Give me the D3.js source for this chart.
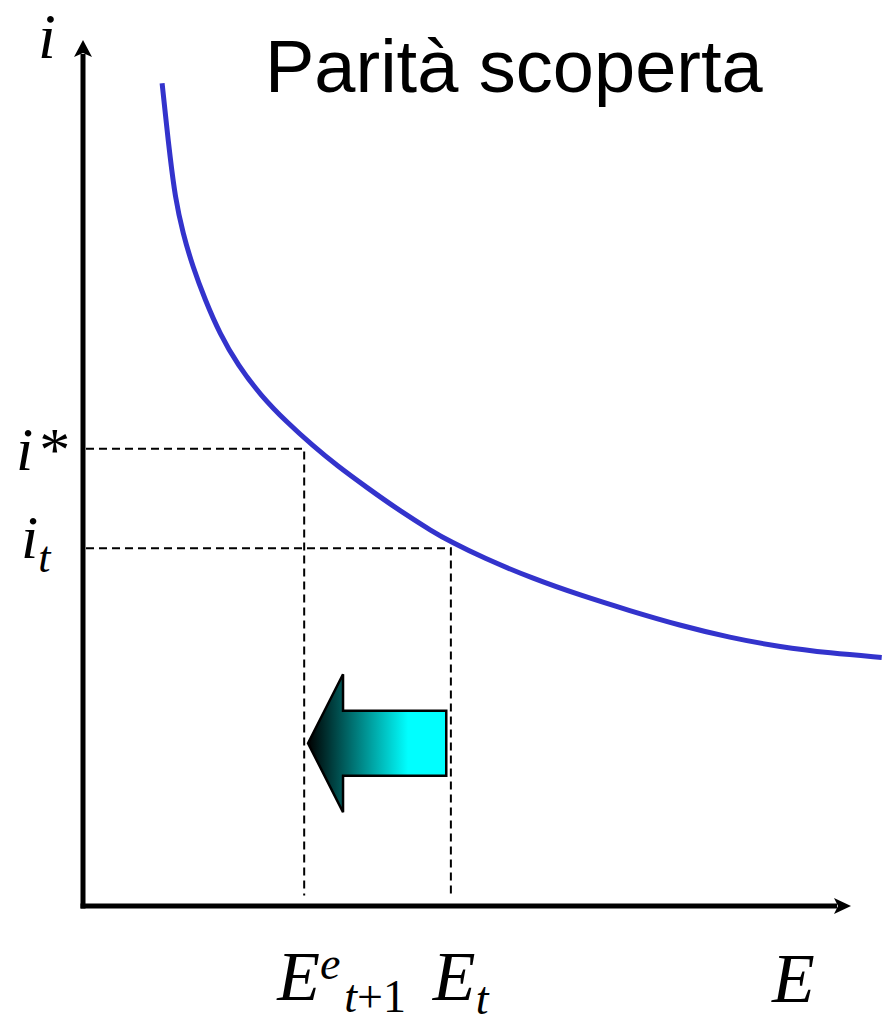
<!DOCTYPE html>
<html>
<head>
<meta charset="utf-8">
<script src="https://cdn.jsdelivr.net/npm/d3@7/dist/d3.min.js"></script>
<style>
  html, body { margin: 0; padding: 0; background: #fff; }
  svg { display: block; }
</style>
</head>
<body>
<svg id="chart" width="884" height="1020"></svg>
<script>
// Uncovered interest parity curve: exchange rate E vs domestic interest rate i
const curveE = [10.3, 10.9, 11.3, 12.0, 13.0, 14.3, 15.9, 17.8, 20.2, 23.1, 26.6, 30.0, 33.0, 37.0, 41.3, 45.6, 47.8, 52.1, 58.6, 64.7, 71.2, 77.7, 84.2, 90.8, 97.3, 104.0];
const curveI = [95.0, 90.0, 86.8, 81.8, 77.7, 73.8, 70.0, 66.1, 62.4, 59.0, 55.8, 53.1, 50.9, 48.3, 45.6, 43.2, 42.1, 40.2, 37.8, 35.9, 34.1, 32.4, 31.0, 29.9, 29.2, 28.7];

// Reference levels marked with dashed guides
const guideNames = ["star", "t"];
const guideI = [52.8, 41.3];
const guideE = [28.8, 47.9];

// Shift of the exchange rate: from E_t to expected E
const shiftFromE = 47.3;
const shiftToE = 29.3;
const shiftAtI = 18.8;

const title = "Parità scoperta";

const svg = d3.select("#chart");

const x = d3.scaleLinear().domain([0, 100]).range([83, 851]);
const y = d3.scaleLinear().domain([0, 100]).range([906, 40]);

const serif = "'Liberation Serif', 'Times New Roman', serif";

// Gradient for the shift arrow
const defs = svg.append("defs");
const grad = defs.append("linearGradient")
  .attr("id", "shiftGrad")
  .attr("gradientUnits", "userSpaceOnUse")
  .attr("x1", x(shiftToE)).attr("x2", x(shiftToE) + 100)
  .attr("y1", 0).attr("y2", 0);
grad.append("stop").attr("offset", "0%").attr("stop-color", "#000000");
grad.append("stop").attr("offset", "100%").attr("stop-color", "#00ffff");

// Dashed guides
const guides = guideNames.map((n, k) => ({ name: n, i: guideI[k], e: guideE[k] }));
const g = svg.append("g").attr("stroke", "#000").attr("stroke-width", 2)
  .attr("stroke-dasharray", "8,5").attr("fill", "none");
g.selectAll("path.guide").data(guides).join("path")
  .attr("class", "guide")
  .attr("d", d => `M${x(0) + 3},${y(d.i)}H${x(d.e)}V${y(1.2)}`);

// Curve
const line = d3.line()
  .x(d => x(d[0]))
  .y(d => y(d[1]))
  .curve(d3.curveBasis);
svg.append("path")
  .datum(d3.zip(curveE, curveI))
  .attr("d", line)
  .attr("fill", "none")
  .attr("stroke", "#3333cc")
  .attr("stroke-width", 5);

// Axes with arrowheads
const axes = svg.append("g");
axes.append("path")
  .attr("d", `M${x(0)},${y(0) + 2.5}V${y(100) + 14}`)
  .attr("stroke", "#000").attr("stroke-width", 5);
axes.append("path")
  .attr("d", `M${x(0) - 2.5},${y(0)}H${x(100) - 14}`)
  .attr("stroke", "#000").attr("stroke-width", 5);
axes.append("path")
  .attr("d", `M${x(0)},${y(100)}L${x(0) + 9},${y(100) + 17}L${x(0)},${y(100) + 13}L${x(0) - 9},${y(100) + 17}Z`)
  .attr("fill", "#000");
axes.append("path")
  .attr("d", `M${x(100)},${y(0)}L${x(100) - 17},${y(0) - 8}L${x(100) - 13},${y(0)}L${x(100) - 17},${y(0) + 8}Z`)
  .attr("fill", "#000");

// Shift arrow (pointing left)
const ax0 = x(shiftToE), ax1 = x(shiftFromE), ay = y(shiftAtI);
const headLen = 35, headHalf = 69, shaftHalf = 32.5;
svg.append("path")
  .attr("d", `M${ax0},${ay}L${ax0 + headLen},${ay - headHalf}V${ay - shaftHalf}H${ax1}V${ay + shaftHalf}H${ax0 + headLen}V${ay + headHalf}Z`)
  .attr("fill", "url(#shiftGrad)")
  .attr("stroke", "#000")
  .attr("stroke-width", 2.5)
  .attr("stroke-linejoin", "miter");

// Title
svg.append("text")
  .attr("x", 265).attr("y", 92)
  .attr("font-family", "'Liberation Sans', Arial, sans-serif")
  .attr("font-size", 74)
  .attr("fill", "#000")
  .text(title);

// Axis labels
const lab = svg.append("g").attr("font-family", serif).attr("font-style", "italic").attr("fill", "#000");

lab.append("text").attr("x", 38).attr("y", 58).attr("font-size", 64).text("i");
lab.append("text").attr("x", 772).attr("y", 1002).attr("font-size", 70).text("E");

// i* label
const tStar = lab.append("text").attr("x", 16).attr("y", y(guideI[0]) + 21).attr("font-size", 62);
tStar.append("tspan").text("i");
tStar.append("tspan").attr("font-style", "normal").attr("dx", 6).text("*");

// i_t label
const tIt = lab.append("text").attr("x", 21).attr("y", y(guideI[1]) + 10).attr("font-size", 62);
tIt.append("tspan").text("i");
tIt.append("tspan").attr("font-size", 44).attr("dy", 14).text("t");

// E^e_{t+1} label
const tEe = lab.append("text").attr("x", x(guideE[0]) - 27).attr("y", 1000).attr("font-size", 70);
tEe.append("tspan").text("E");
tEe.append("tspan").attr("font-size", 46).attr("dy", -21).text("e");
const tEeSub = lab.append("text").attr("x", x(guideE[0]) + 40).attr("y", 1012).attr("font-size", 46);
tEeSub.append("tspan").text("t");
tEeSub.append("tspan").attr("font-style", "normal").text("+1");

// E_t label
const tEt = lab.append("text").attr("x", x(guideE[1]) - 18).attr("y", 1000).attr("font-size", 70);
tEt.append("tspan").text("E");
tEt.append("tspan").attr("font-size", 46).attr("dy", 14).text("t");
</script>
</body>
</html>
